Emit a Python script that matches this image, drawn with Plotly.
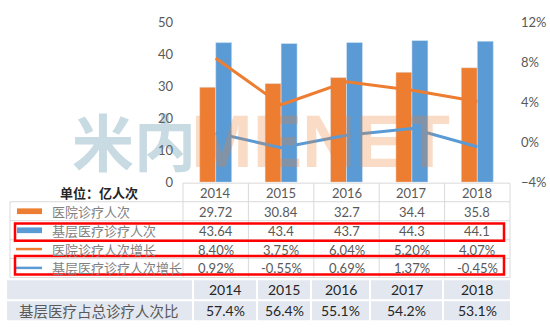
import plotly.graph_objects as go

# ---- data ----
years = ["2014", "2015", "2016", "2017", "2018"]
hospital_visits = [29.72, 30.84, 32.7, 34.4, 35.8]          # 医院诊疗人次 (亿)
primary_visits = [43.64, 43.4, 43.7, 44.3, 44.1]            # 基层医疗诊疗人次 (亿)
hospital_growth = [8.40, 3.75, 6.04, 5.20, 4.07]            # 医院诊疗人次增长 (%)
primary_growth = [0.92, -0.55, 0.69, 1.37, -0.45]           # 基层医疗诊疗人次增长 (%)
primary_share = [57.4, 56.4, 55.1, 54.2, 53.1]              # 基层医疗占总诊疗人次比 (%)

row_labels = ["医院诊疗人次", "基层医疗诊疗人次", "医院诊疗人次增长", "基层医疗诊疗人次增长"]
share_label = "基层医疗占总诊疗人次比"
unit_label = "单位：亿人次"

ORANGE = "#ED7D31"
BLUE = "#5B9BD5"
GRID = "#d9d9d9"
TXT = "#595959"

W, H = 550, 333


def px(x):
    return x / W


def py(y):
    return 1 - y / H


fig = go.Figure()
fig.add_bar(x=years, y=hospital_visits, marker_color=ORANGE, name=row_labels[0])
fig.add_bar(x=years, y=primary_visits, marker_color=BLUE, name=row_labels[1])
fig.add_scatter(x=years, y=hospital_growth, yaxis="y2", mode="lines",
                line=dict(color=ORANGE, width=3), name=row_labels[2])
fig.add_scatter(x=years, y=primary_growth, yaxis="y2", mode="lines",
                line=dict(color=BLUE, width=3), name=row_labels[3])

tick_font = dict(family="Lato, Liberation Sans, sans-serif", size=13, color=TXT)

fig.update_layout(
    width=W, height=H,
    margin=dict(l=0, r=0, t=0, b=0),
    paper_bgcolor="white", plot_bgcolor="white",
    showlegend=False,
    barmode="group", bargap=0.51, bargroupgap=0,
    xaxis=dict(type="category", domain=[px(183), px(510)], showticklabels=False,
               showgrid=False, zeroline=False, showline=False, ticks="",
               range=[-0.5, 4.5]),
    yaxis=dict(domain=[py(183), py(15)], range=[0, 50], dtick=10, showgrid=False,
               zeroline=False, showline=False, ticks="", tickfont=tick_font,
               ticklabelstandoff=9),
    yaxis2=dict(overlaying="y", side="right", range=[-4, 12], dtick=4,
                ticksuffix="%", showgrid=False, zeroline=False, showline=False,
                ticks="", tickfont=tick_font, ticklabelstandoff=10),
)

shapes = []
annotations = []


def hline(y, x0, x1, color=GRID, width=1):
    shapes.append(dict(type="line", xref="paper", yref="paper",
                       x0=px(x0), x1=px(x1), y0=py(y), y1=py(y),
                       line=dict(color=color, width=width)))


def vline(x, y0, y1, color=GRID, width=1):
    shapes.append(dict(type="line", xref="paper", yref="paper",
                       x0=px(x), x1=px(x), y0=py(y0), y1=py(y1),
                       line=dict(color=color, width=width)))


def text_at(x, y, text, font, xref="paper", xanchor="center"):
    annotations.append(dict(x=x, xref=xref, y=py(y), yref="paper", text=text,
                            showarrow=False, xanchor=xanchor, yanchor="middle",
                            font=font))


# ---- data table under the chart ----
col_edges = [183, 248.4, 313.8, 379.2, 444.6, 510]
row_edges = [184, 203.5, 223.5, 243.5, 263, 283]
hline(row_edges[0], col_edges[0], col_edges[-1])
for y in row_edges[1:]:
    hline(y, 10, col_edges[-1])
for x in col_edges:
    vline(x, row_edges[0], row_edges[-1])
vline(10, row_edges[1], row_edges[-1])

cell_font = dict(family="Lato, Liberation Sans, sans-serif", size=13, color=TXT)
label_font = dict(family="Noto Sans CJK SC", size=13, color="#7f7f7f")

# column headers sit on the category positions of the x axis
for i, yr in enumerate(years):
    text_at(i, 194, yr, cell_font, xref="x")

row_texts = [
    [str(v) for v in hospital_visits],
    [str(v) for v in primary_visits],
    ["%.2f%%" % v for v in hospital_growth],
    ["%.2f%%" % v for v in primary_growth],
]
row_centers = [(row_edges[i] + row_edges[i + 1]) / 2 for i in range(1, 5)]
for texts, yc in zip(row_texts, row_centers):
    for i, t in enumerate(texts):
        text_at(i, yc + 0.5, t, cell_font, xref="x")

for lab, yc in zip(row_labels, row_centers):
    text_at(px(50), yc, lab, label_font, xanchor="left")

text_at(px(99), 194, "<b>%s</b>" % unit_label,
        dict(family="Noto Sans CJK SC", size=13, color="#262626"))

# legend keys inside the table
shapes.append(dict(type="rect", xref="paper", yref="paper", x0=px(17), x1=px(42),
                   y0=py(216.5), y1=py(210.5), fillcolor=ORANGE, line_width=0))
shapes.append(dict(type="rect", xref="paper", yref="paper", x0=px(17), x1=px(42),
                   y0=py(236.5), y1=py(230.5), fillcolor=BLUE, line_width=0))
hline(row_centers[2], 16, 42, color=ORANGE, width=2.5)
hline(row_centers[3], 16, 42, color=BLUE, width=2.5)

# red highlight frames around the primary-care rows
for y0, y1 in [(226.5, 244.5), (260.5, 280)]:
    shapes.append(dict(type="rect", xref="paper", yref="paper",
                       x0=px(15), x1=px(504), y0=py(y1), y1=py(y0),
                       line=dict(color="#ff0000", width=2.5), fillcolor="rgba(0,0,0,0)"))

# ---- share table at the bottom ----
share_cols = [(7, 192), (194, 256), (258, 310), (312, 369), (371, 442), (444, 510)]
share_rows = [(286, 306), (308, 328)]
CELL = "#e3e8f0"
for (y0, y1) in share_rows:
    for (x0, x1) in share_cols:
        shapes.append(dict(type="rect", xref="paper", yref="paper", layer="below",
                           x0=px(x0), x1=px(x1), y0=py(y1), y1=py(y0),
                           fillcolor=CELL, line_width=0))

dark_font = dict(family="Lato, Liberation Sans, sans-serif", size=14, color="#262626")
for (x0, x1), yr, v in zip(share_cols[1:], years, primary_share):
    xc = (x0 + x1) / 2
    text_at(px(xc), 296, yr, dark_font)
    text_at(px(xc), 318, "%.1f%%" % v, dark_font)
text_at(px(99), 318, share_label,
        dict(family="Noto Sans CJK SC", size=14.5, color=TXT))

# ---- brand watermark ----
text_at(px(134), 139, "<b>米内</b>",
        dict(family="Noto Sans CJK SC", size=62, color="rgba(74,134,160,0.3)"))
text_at(px(320), 140, "<b>MENET</b>",
        dict(family="Liberation Sans, Arial, sans-serif", size=74,
             color="rgba(237,125,49,0.28)"))

fig.update_layout(shapes=shapes, annotations=annotations)
fig.write_html("out.html", post_script="document.body.style.margin='0';")
